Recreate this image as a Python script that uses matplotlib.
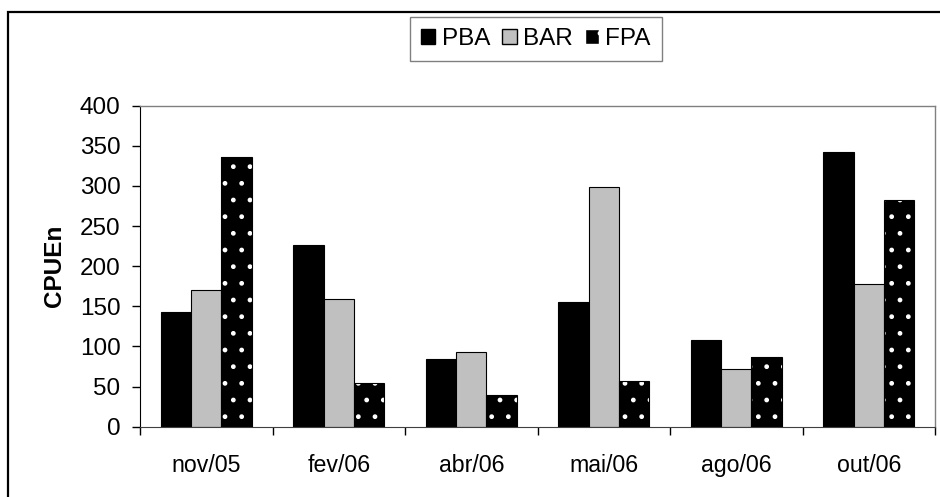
import matplotlib
matplotlib.use("Agg")
import matplotlib.pyplot as plt
import numpy as np
from matplotlib.patches import Patch, Rectangle

plt.rcParams['font.family'] = ['Liberation Sans', 'DejaVu Sans']

months = ["nov/05", "fev/06", "abr/06", "mai/06", "ago/06", "out/06"]
pba = [143, 227, 84, 155, 108, 342]
bar = [170, 159, 93, 299, 72, 178]
fpa = [336, 55, 39, 57, 87, 282]


def make_chart():
    fig = plt.figure(figsize=(9.4, 4.97), dpi=100)
    ax = fig.add_axes([140 / 940, 1 - 426.7 / 497, 795 / 940, 321 / 497])

    x = np.arange(len(months))
    w = 0.228

    ax.bar(x - w, pba, w, color="black", edgecolor="black", linewidth=0.8, zorder=2)
    ax.bar(x, bar, w, color="#c0c0c0", edgecolor="black", linewidth=0.8, zorder=2)
    # dotted bars: white hatch on black, then a black outline on top
    ax.bar(x + w, fpa, w, color="black", edgecolor="white", hatch=".", linewidth=0, zorder=2)
    ax.bar(x + w, fpa, w, fill=False, edgecolor="black", linewidth=0.8, zorder=3)

    ax.set_xlim(-0.5, len(months) - 0.5)
    ax.set_ylim(0, 400)
    ax.set_yticks(np.arange(0, 401, 50))
    ax.set_xticks(x)
    ax.set_xticklabels(months)
    ax.set_xticks(np.arange(-0.5, len(months), 1), minor=True)
    ax.tick_params(axis="x", which="major", length=0, pad=20, labelsize=16.7)
    ax.tick_params(axis="x", which="minor", length=6, width=1, direction="out")
    ax.tick_params(axis="y", length=6, width=1, direction="out", pad=8, labelsize=17.5)

    ax.set_ylabel("CPUEn", fontsize=17.5, fontweight="bold", labelpad=10)

    for side in ["top", "right"]:
        ax.spines[side].set_color("#808080")
        ax.spines[side].set_linewidth(1)
    ax.spines["left"].set_color("black")
    ax.spines["bottom"].set_color("#404040")

    handles = [
        Patch(facecolor="black", edgecolor="black", label="PBA"),
        Patch(facecolor="#c0c0c0", edgecolor="black", label="BAR"),
        Patch(facecolor="black", edgecolor="white", hatch=".", label="FPA"),
    ]
    leg = fig.legend(handles=handles, loc="upper center", ncol=3,
                     bbox_to_anchor=(535.8 / 940, 1 - 17.3 / 497),
                     fontsize=17.5, frameon=True, fancybox=False,
                     handlelength=0.6, handleheight=0.6, handletextpad=0.25,
                     columnspacing=0.5, borderpad=0.45, borderaxespad=0)
    leg.get_frame().set_edgecolor("#606060")
    leg.get_frame().set_linewidth(1)

    # outer chart frame (cut off at right and bottom in the original)
    fig.patches.append(Rectangle((8 / 940, -0.1), 1.1, 0.1 + 1 - 12 / 497,
                                 transform=fig.transFigure, fill=False,
                                 edgecolor="black", linewidth=1.6))

    fig.savefig("out.png", dpi=100)


if __name__ == "__main__":
    make_chart()
